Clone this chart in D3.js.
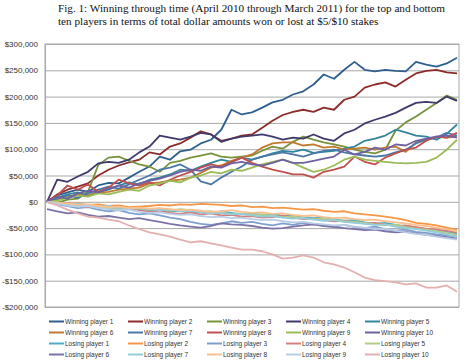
<!DOCTYPE html>
<meta charset="utf-8">
<style>

body {
  margin: 0;
  background: #fff;
}

.title {
  font-family: "Liberation Serif", "Times New Roman", serif;
  font-size: 11.2px;
  fill: #111;
}

.axis text {
  font-family: "Liberation Sans", Arial, sans-serif;
  font-size: 8px;
  fill: #333;
}

.grid line {
  stroke: #a9a9a9;
}

.series {
  fill: none;
  stroke-width: 1.8;
  stroke-linejoin: round;
}

.legend text {
  font-family: "Liberation Sans Narrow", "Liberation Sans", Arial, sans-serif;
  font-size: 6.5px;
  fill: #333;
}

</style>
<body>
<script src="https://cdn.jsdelivr.net/npm/d3@7"></script>
<script>

// values in thousands of dollars, one point every ~9 days, Apr 2010 - Mar 2011
var names = [
  "Winning player 1", "Winning player 2", "Winning player 3", "Winning player 4", "Winning player 5",
  "Winning player 6", "Winning player 7", "Winning player 8", "Winning player 9", "Winning player 10",
  "Losing player 1", "Losing player 2", "Losing player 3", "Losing player 4", "Losing player 5",
  "Losing player 6", "Losing player 7", "Losing player 8", "Losing player 9", "Losing player 10"
];

var colors = [
  "#2f5f8f", "#8b2d2a", "#77933c", "#3f3a6b", "#31859c",
  "#c07a30", "#4a78a8", "#c0504d", "#9bbb59", "#7060a0",
  "#4bacc6", "#f79646", "#7f9fcf", "#d47f7d", "#b3cc82",
  "#7d72a8", "#93cddd", "#fac090", "#b9cde5", "#e2b0ae"
];

var winning1  = [0,12,18,23,19,31,36,35,46,57, 67,86,80,96,99,111,118,137,175,166, 170,179,189,194,204,210,223,242,234,251, 266,251,248,251,249,248,266,261,257,263, 274];
var winning2  = [0,14,23,29,35,50,61,69,75,80, 94,90,105,111,122,134,128,116,120,126, 128,141,154,165,171,175,171,179,175,194, 200,217,223,227,219,232,244,249,251,246, 244];
var winning3  = [0,-2,4,6,19,70,84,86,78,71, 67,57,74,78,84,88,92,86,84,86, 88,97,105,101,114,124,118,113,109,105, 99,95,92,99,135,151,162,175,188,202, 194];
var winning4  = [0,42,38,48,57,73,76,74,80,94, 105,126,122,118,124,131,128,114,120,124, 126,128,124,118,122,120,128,120,116,130, 137,149,156,162,169,179,188,190,188,200, 192];
var winning5  = [0,8,14,18,12,19,23,31,37,33, 42,46,52,61,59,67,74,80,76,84, 80,86,92,97,95,99,93,95,97,101, 105,116,120,126,137,132,126,124,118,129, 147];
var winning6  = [0,4,10,14,12,18,19,23,25,27, 35,37,40,42,46,55,65,69,78,84, 90,103,111,113,113,107,109,103,105,99, 101,103,99,103,105,95,113,118,124,122, 124];
var winning7  = [0,6,12,8,16,23,29,25,33,42, 50,61,65,71,61,39,33,46,57,67, 80,86,90,94,90,86,92,97,99,94, 90,88,86,88,94,99,111,118,122,131, 126];
var winning8  = [0,12,31,23,33,19,27,42,35,31, 37,31,42,50,57,65,71,67,76,84, 74,67,61,57,52,52,46,57,61,67, 86,76,71,84,92,99,103,116,124,122, 131];
var winning9  = [0,2,8,12,10,16,14,19,23,21, 31,35,40,37,46,50,57,54,61,59, 65,71,76,80,74,65,57,61,69,80, 86,80,78,76,74,73,74,76,84,99, 118];
var winning10 = [0,10,6,16,21,18,25,31,27,35, 40,44,50,57,61,59,67,65,73,76, 71,69,74,80,74,74,78,82,86,99, 90,95,103,99,109,107,116,120,124,126, 122];

var losing1  = [0,-3,-6,-5,-9,-8,-12,-10,-14,-13, -16,-15,-18,-17,-20,-19,-22,-18,-21,-24, -22,-25,-23,-27,-26,-29,-31,-30,-34,-36, -35,-39,-42,-40,-44,-47,-49,-52,-54,-57, -60];
var losing2  = [0,-2,-4,-3,-6,-5,-8,-7,-10,-9, -8,-6,-7,-5,-6,-4,-5,-6,-8,-7, -10,-9,-12,-11,-13,-15,-14,-17,-19,-18, -22,-24,-26,-28,-31,-35,-40,-42,-45,-49, -53];
var losing3  = [0,-5,-8,-12,-10,-15,-18,-16,-21,-24, -22,-26,-30,-33,-38,-42,-44,-41,-37,-40, -38,-42,-45,-41,-44,-40,-43,-45,-47,-44, -48,-50,-47,-52,-55,-53,-57,-59,-62,-64, -66];
var losing4  = [0,-4,-2,-7,-10,-8,-13,-15,-12,-16, -19,-17,-21,-23,-20,-24,-22,-26,-25,-28, -27,-30,-29,-26,-30,-33,-32,-35,-37,-36, -39,-41,-40,-43,-46,-45,-48,-51,-53,-55, -58];
var losing5  = [0,-1,-5,-8,-6,-10,-12,-11,-14,-12, -15,-13,-17,-14,-16,-19,-18,-21,-23,-22, -25,-24,-27,-29,-28,-31,-33,-32,-35,-37, -38,-40,-43,-45,-44,-48,-51,-53,-56,-59, -63];
var losing6  = [-14,-18,-22,-20,-25,-28,-27,-30,-33,-31, -35,-38,-42,-45,-47,-49,-46,-41,-43,-44, -46,-49,-51,-50,-47,-45,-43,-46,-48,-50, -52,-54,-53,-56,-58,-57,-60,-63,-65,-67, -70];
var losing7  = [0,-3,-5,-4,-7,-9,-8,-11,-13,-12, -14,-16,-15,-18,-17,-20,-22,-21,-24,-23, -26,-28,-27,-30,-32,-31,-34,-36,-35,-38, -40,-42,-44,-43,-47,-50,-52,-55,-58,-62, -66];
var losing8  = [0,-2,-3,-6,-5,-8,-10,-9,-12,-11, -13,-12,-14,-16,-15,-17,-19,-18,-16,-19, -21,-20,-23,-22,-25,-27,-26,-29,-31,-30, -33,-35,-34,-37,-39,-41,-44,-46,-49,-52, -56];
var losing9  = [0,-4,-7,-9,-8,-12,-14,-16,-15,-19, -21,-20,-23,-25,-24,-27,-29,-28,-31,-30, -33,-35,-34,-37,-39,-38,-41,-43,-45,-44, -47,-49,-52,-51,-55,-58,-61,-63,-66,-69, -72];
var losing10 = [0,-7,-15,-22,-28,-30,-34,-37,-45,-52, -58,-62,-66,-72,-77,-75,-79,-83,-87,-91, -91,-94,-100,-108,-106,-102,-106,-115,-119,-125, -134,-144,-149,-151,-153,-157,-155,-163,-163,-159, -171];

var yTicks = [300, 250, 200, 150, 100, 50, 0, -50, -100, -150, -200];

var series = [
  winning1, winning2, winning3, winning4, winning5,
  winning6, winning7, winning8, winning9, winning10,
  losing1, losing2, losing3, losing4, losing5,
  losing6, losing7, losing8, losing9, losing10
];

var width = 467,
    height = 364,
    margin = {top: 44, right: 8, bottom: 57, left: 45};

var svg = d3.select("body").append("svg")
    .attr("width", width)
    .attr("height", height);

svg.append("text")
    .attr("class", "title")
    .attr("x", 58)
    .attr("y", 12)
    .text("Fig. 1: Winning through time (April 2010 through March 2011) for the top and bottom");

svg.append("text")
    .attr("class", "title")
    .attr("x", 58)
    .attr("y", 24.5)
    .text("ten players in terms of total dollar amounts won or lost at $5/$10 stakes");

var x = d3.scaleLinear()
    .domain([0, winning1.length - 1])
    .range([margin.left + 2, width - margin.right - 2]);

var y = d3.scaleLinear()
    .domain([-200, 300])
    .range([height - margin.bottom, margin.top]);

var money = function(d) {
  return (d < 0 ? "-" : "") + "$" + d3.format(",")(Math.abs(d) * 1000);
};

svg.append("g")
    .attr("class", "grid")
    .attr("transform", "translate(" + margin.left + ",0)")
    .call(d3.axisLeft(y)
        .tickValues(yTicks)
        .tickSize(-(width - margin.left - margin.right))
        .tickFormat(""))
    .call(function(g) { g.select(".domain").remove(); });

// plot frame
svg.append("rect")
    .attr("x", margin.left)
    .attr("y", margin.top)
    .attr("width", width - margin.left - margin.right)
    .attr("height", height - margin.top - margin.bottom)
    .attr("fill", "none")
    .attr("stroke", "#a9a9a9");

svg.append("g")
    .attr("class", "axis")
    .attr("transform", "translate(" + margin.left + ",0)")
    .call(d3.axisLeft(y)
        .tickValues(yTicks)
        .tickSize(0)
        .tickPadding(7)
        .tickFormat(money))
    .call(function(g) { g.select(".domain").attr("stroke", "#a9a9a9"); });

var line = d3.line()
    .x(function(d, i) { return x(i); })
    .y(function(d) { return y(d); });

svg.append("g").selectAll("path")
    .data(series)
  .enter().append("path")
    .attr("class", "series")
    .attr("stroke", function(d, i) { return colors[i]; })
    .attr("d", line);

var legend = svg.append("g")
    .attr("class", "legend")
  .selectAll("g")
    .data(names)
  .enter().append("g")
    .attr("transform", function(d, i) {
      return "translate(" + (49 + (i % 5) * 79) + "," + (321.5 + Math.floor(i / 5) * 11) + ")";
    });

legend.append("line")
    .attr("x2", 15)
    .attr("stroke", function(d, i) { return colors[i]; })
    .attr("stroke-width", 2);

legend.append("text")
    .attr("x", 16)
    .attr("dy", "0.35em")
    .text(function(d) { return d; });

</script>
